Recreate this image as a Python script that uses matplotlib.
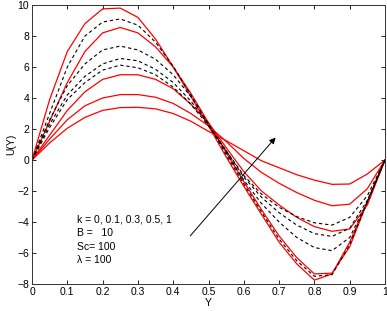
import matplotlib
matplotlib.use("Agg")
import matplotlib.pyplot as plt

plt.rcParams['font.family'] = ['Liberation Sans', 'DejaVu Sans']

y_pos = [0, .05, .1, .15, .2, .25, .3, .35, .4, .45, .5,
         .55, .6, .65, .7, .75, .8, .85, .9, .95, 1]

# solid red curves (k = 0, 0.1, 0.3, 0.5, 1)
red_k0 = [0, 3.9, 7.0, 8.8, 9.75, 9.8, 9.2, 7.8, 6.0, 4.1, 2.2, 0.2, -1.7, -3.5, -5.3, -6.7, -7.75, -7.35, -5.3, -2.7, 0]
red_k1 = [0, 2.5, 5.0, 7.0, 8.2, 8.55, 8.2, 7.3, 6.0, 4.3, 2.4, 0.5, -1.4, -3.2, -4.9, -6.3, -7.35, -7.3, -5.6, -2.7, 0]
red_k3 = [0, 1.6, 3.2, 4.4, 5.2, 5.5, 5.5, 5.2, 4.6, 3.6, 2.4, 0.8, -0.75, -2.0, -2.9, -3.7, -4.3, -4.6, -4.45, -2.9, 0]
red_k5 = [0, 1.35, 2.6, 3.5, 4.0, 4.22, 4.22, 4.05, 3.65, 3.0, 2.2, 1.2, 0.1, -0.8, -1.5, -2.1, -2.6, -2.95, -2.85, -1.85, 0]
red_k10 = [0, 1.1, 2.05, 2.75, 3.2, 3.38, 3.4, 3.3, 3.0, 2.5, 1.85, 1.25, 0.6, -0.05, -0.5, -0.95, -1.3, -1.57, -1.55, -0.9, 0]

# dashed black curves
dash_1 = [0, 3.0, 6.0, 8.0, 8.9, 9.1, 8.7, 7.6, 6.05, 4.2, 2.3, 0.35, -1.55, -3.35, -5.1, -6.5, -7.5, -7.4, -5.45, -2.7, 0]
dash_2 = [0, 2.6, 4.8, 6.2, 7.1, 7.35, 7.1, 6.5, 5.5, 4.1, 2.3, 0.5, -1.3, -2.8, -4.0, -5.0, -5.65, -5.85, -5.0, -2.7, 0]
dash_3 = [0, 2.3, 4.2, 5.4, 6.2, 6.55, 6.4, 5.85, 5.0, 3.8, 2.3, 0.6, -1.1, -2.4, -3.4, -4.2, -4.75, -4.93, -4.4, -2.6, 0]
dash_4 = [0, 2.1, 3.9, 5.0, 5.8, 6.12, 5.95, 5.5, 4.7, 3.6, 2.2, 0.6, -1.0, -2.2, -3.05, -3.65, -4.05, -4.2, -3.7, -2.3, 0]

red_series = [red_k0, red_k1, red_k3, red_k5, red_k10]
dash_series = [dash_1, dash_2, dash_3, dash_4]

x_ticks = [0, 0.1, 0.2, 0.3, 0.4, 0.5, 0.6, 0.7, 0.8, 0.9, 1]
x_tick_labels = ['0', '0.1', '0.2', '0.3', '0.4', '0.5', '0.6', '0.7', '0.8', '0.9', '1']
y_ticks = [-8, -6, -4, -2, 0, 2, 4, 6, 8, 10]

annotation_lines = ['k = 0, 0.1, 0.3, 0.5, 1', 'B =   10', 'Sc= 100', 'λ = 100']

fig = plt.figure(figsize=(3.87, 3.11), dpi=100)
ax = fig.add_axes([32/387, 1-284/311, 353/387, 279/311])

for s in red_series:
    ax.plot(y_pos, s, color='#ff0000', lw=0.9)
for s in dash_series:
    ax.plot(y_pos, s, color='black', lw=0.8, ls=(0, (3, 2.5)))

ax.set_xlim(0, 1)
ax.set_ylim(-8, 10)
ax.set_xticks(x_ticks)
ax.set_xticklabels(x_tick_labels)
ax.set_yticks(y_ticks)
ax.tick_params(direction='in', top=True, right=True, length=3, width=0.6,
               labelsize=7.5, pad=2, colors='black')
for sp in ax.spines.values():
    sp.set_linewidth(0.7)
    sp.set_color('#333333')

ax.set_xlabel('Y', fontsize=7.5, labelpad=1)
ax.set_ylabel('U(Y)', fontsize=7.5, labelpad=1)

ax.annotate('', xy=(0.69, 1.45), xytext=(0.448, -4.9),
            arrowprops=dict(arrowstyle='-|>', color='black', lw=0.7,
                            mutation_scale=9, shrinkA=0, shrinkB=0))

for i, line in enumerate(annotation_lines):
    ax.text(0.127, -3.87 - i * 0.87, line, fontsize=7.5, va='center', ha='left')

fig.savefig('out.png', dpi=100)
